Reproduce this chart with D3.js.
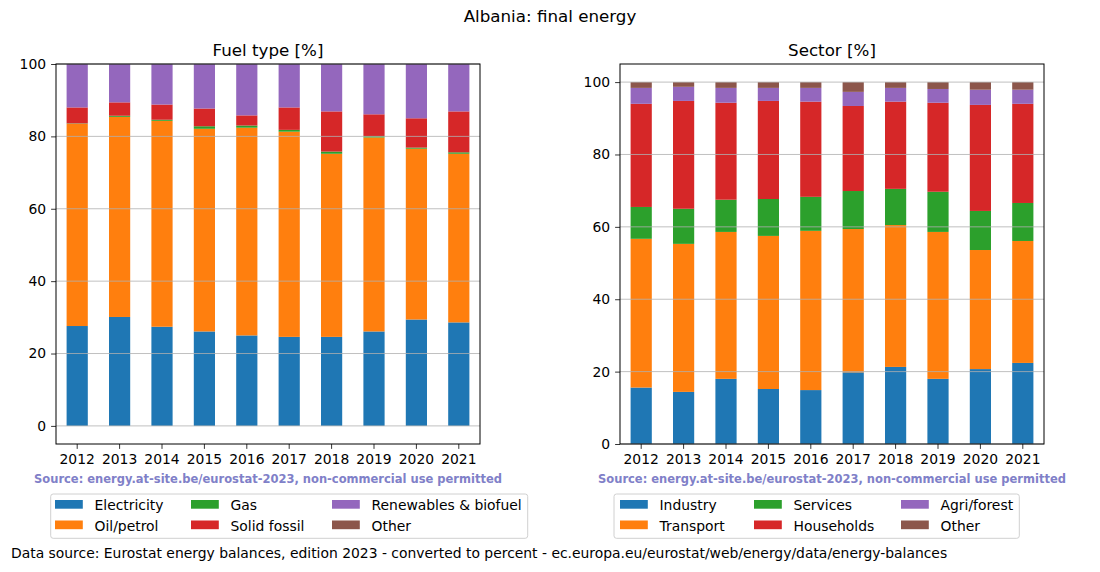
<!DOCTYPE html>
<html><head><meta charset="utf-8">
<script src="https://cdn.jsdelivr.net/npm/d3@7"></script>
<style>body{margin:0;background:#fff;} svg{display:block;font-family:"DejaVu Sans",sans-serif;}</style>
</head><body>
<svg id="c" width="1100" height="572"></svg>
<script>
const years = ["2012","2013","2014","2015","2016","2017","2018","2019","2020","2021"];
const colors = ["#1f77b4","#ff7f0e","#2ca02c","#d62728","#9467bd","#8c564b"];

const fuelNames = ["Electricity","Oil/petrol","Gas","Solid fossil","Renewables & biofuel","Other"];
const fuelElectricity = [27.6,30.1,27.4,26.1,25.0,24.6,24.6,26.1,29.4,28.6];
const fuelOil = [55.9,55.3,56.9,56.0,57.4,56.7,50.6,53.6,47.2,46.6];
const fuelGas = [0.1,0.3,0.3,0.7,0.6,0.5,0.6,0.4,0.3,0.4];
const fuelSolid = [4.4,3.7,4.2,4.9,2.8,6.2,11.1,6.0,8.1,11.3];
const fuelRenew = [12.0,10.6,11.2,12.3,14.2,12.0,13.1,13.9,15.0,13.1];
const fuelOther = [0,0,0,0,0,0,0,0,0,0];

const sectorNames = ["Industry","Transport","Services","Households","Agri/forest","Other"];
const secIndustry = [15.6,14.4,18.0,15.2,14.9,19.8,21.3,18.0,20.7,22.4];
const secTransport = [41.1,40.9,40.6,42.3,44.0,39.6,39.2,40.6,32.9,33.7];
const secServices = [8.8,9.7,8.9,10.2,9.4,10.5,10.0,11.1,10.8,10.5];
const secHouseholds = [28.5,29.8,26.8,27.1,26.3,23.5,24.1,24.6,29.3,27.4];
const secAgri = [4.4,3.9,4.1,3.6,3.8,3.9,3.8,3.8,4.2,3.9];
const secOther = [1.6,1.3,1.6,1.6,1.6,2.7,1.6,1.9,2.1,2.1];

const yTicks = [0,20,40,60,80,100];

const svg = d3.select("#c");
const FS = 13.9, TS = 16.7;

svg.append("text").attr("x",550).attr("y",22).attr("text-anchor","middle")
  .attr("font-size",TS+"px").text("Albania: final energy");

function panel(x0, title, names, series, yDomain, legendBox) {
  const w = 424, top = 64, bottom = 444;
  const x = d3.scaleBand().domain(years).range([x0, x0+w]).paddingInner(0.5).paddingOuter(0.25);
  const y = d3.scaleLinear().domain(yDomain).range([bottom, top]);
  const g = svg.append("g");
  const rows = years.map((yr,i)=>{ const o={year:yr}; names.forEach((n,k)=>o[n]=series[k][i]); return o; });
  const stack = d3.stack().keys(names)(rows);
  stack.forEach((layer,k)=>{
    g.append("g").attr("fill",colors[k]).selectAll("rect").data(layer).join("rect")
      .attr("x",d=>x(d.data.year)).attr("width",x.bandwidth())
      .attr("y",d=>y(d[1])).attr("height",d=>Math.max(0,y(d[0])-y(d[1])));
  });
  g.append("g").selectAll("line").data(yTicks).join("line")
    .attr("x1",x0).attr("x2",x0+w).attr("y1",d=>y(d)).attr("y2",d=>y(d))
    .attr("stroke","#b0b0b0").attr("stroke-width",0.8);
  g.append("rect").attr("x",x0).attr("y",top).attr("width",w).attr("height",bottom-top)
    .attr("fill","none").attr("stroke","#000").attr("stroke-width",1);
  const ya = d3.axisLeft(y).tickValues(yTicks).tickSize(4.9).tickPadding(5);
  const yg = g.append("g").attr("transform",`translate(${x0},0)`).call(ya);
  const xa = d3.axisBottom(x).tickSize(4.9).tickPadding(5.5);
  const xg = g.append("g").attr("transform",`translate(0,${bottom})`).call(xa);
  [yg,xg].forEach(a=>{ a.attr("font-size",null).attr("font-family",null); a.select(".domain").remove(); a.selectAll("text").attr("font-size",FS+"px").attr("fill","#000"); a.selectAll("line").attr("stroke","#000").attr("stroke-width",0.8); });
  svg.append("text").attr("x",x0+w/2).attr("y",56).attr("text-anchor","middle")
    .attr("font-size",TS+"px").text(title);
  svg.append("text").attr("x",x0+w/2).attr("y",482.5).attr("text-anchor","middle")
    .attr("font-size","11.5px").attr("font-weight","bold").attr("fill","#8080c8")
    .text("Source: energy.at-site.be/eurostat-2023, non-commercial use permitted");
  const lb = legendBox;
  svg.append("rect").attr("x",lb.x).attr("y",494).attr("width",lb.w).attr("height",44.3)
    .attr("rx",2.5).attr("fill","#fff").attr("stroke","#d0d0d0").attr("stroke-width",1);
  names.forEach((n,k)=>{
    const col = Math.floor(k/2), row = k%2;
    const px = lb.cols[col], py = 500 + row*20.5;
    svg.append("rect").attr("x",px).attr("y",py).attr("width",27.8).attr("height",8.7).attr("fill",colors[k]);
    svg.append("text").attr("x",px+39.5).attr("y",py+10).attr("font-size",FS+"px").text(n);
  });
}

panel(56, "Fuel type [%]", fuelNames, [fuelElectricity,fuelOil,fuelGas,fuelSolid,fuelRenew,fuelOther], [-5,100],
  {x:50.7, w:477, cols:[55,191,332]});
panel(620, "Sector [%]", sectorNames, [secIndustry,secTransport,secServices,secHouseholds,secAgri,secOther], [0,105],
  {x:614, w:405.3, cols:[620,754,901]});

svg.append("text").attr("x",11).attr("y",557.7).attr("font-size",FS+"px")
  .text("Data source: Eurostat energy balances, edition 2023 - converted to percent - ec.europa.eu/eurostat/web/energy/data/energy-balances");
</script>
</body></html>
